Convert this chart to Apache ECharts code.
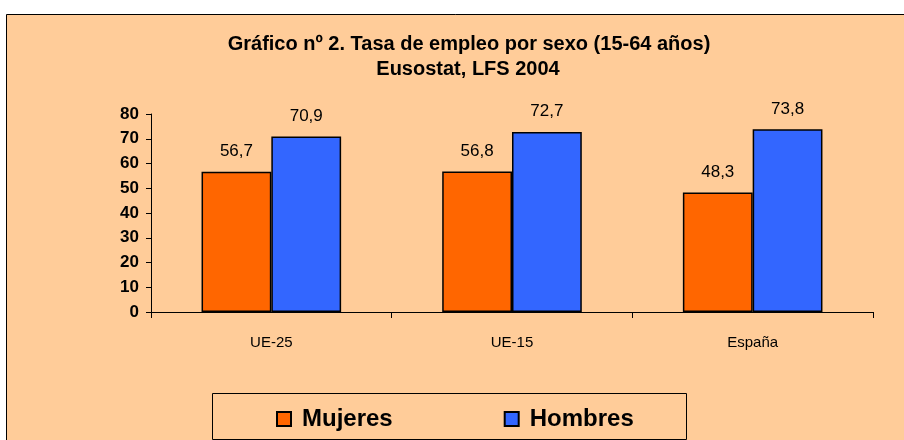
<!DOCTYPE html>
<html>
<head>
<meta charset="utf-8">
<script src="https://cdn.jsdelivr.net/npm/echarts@6/dist/echarts.min.js"></script>
<style>
  html, body { margin: 0; padding: 0; background: #fff; }
  #chart { width: 904px; height: 440px; }
</style>
</head>
<body>
<div id="chart"></div>
<script>
// datos
const categorias = ['UE-25', 'UE-15', 'España']
const mujeres = [56.7, 56.8, 48.3]
const hombres = [70.9, 72.7, 73.8]
const yTicks = [0, 10, 20, 30, 40, 50, 60, 70, 80]

const fuente = '"Liberation Sans", Arial, sans-serif'
const etiqueta = {
  show: true,
  position: 'top',
  distance: 12,
  color: '#000',
  fontSize: 17,
  fontFamily: fuente,
  formatter: p => p.value.toFixed(1).replace('.', ',')
}

const chart = echarts.init(document.getElementById('chart'))
chart.setOption({
  backgroundColor: '#fff',
  animation: false,
  graphic: [
    // panel de fondo
    {
      type: 'rect', z: -10,
      shape: { x: 6.5, y: 14.5, width: 910, height: 440 },
      style: { fill: '#FFCC99', stroke: '#000', lineWidth: 1 }
    },
    // caja de la leyenda
    {
      type: 'rect', z: -5,
      shape: { x: 212.5, y: 393.5, width: 474, height: 46 },
      style: { fill: '#FFCC99', stroke: '#000', lineWidth: 1 }
    }
  ],
  title: [
    {
      text: 'Gráfico nº 2. Tasa de empleo por sexo (15-64 años)',
      left: 464, top: 29, textAlign: 'center',
      textStyle: { fontSize: 20, fontWeight: 'bold', fontFamily: fuente, color: '#000' }
    },
    {
      text: 'Eusostat, LFS 2004',
      left: 463, top: 54, textAlign: 'center',
      textStyle: { fontSize: 20, fontWeight: 'bold', fontFamily: fuente, color: '#000' }
    }
  ],
  legend: {
    left: 271, top: 402, itemGap: 111,
    itemWidth: 14, itemHeight: 14,
    icon: 'rect',
    textStyle: { fontSize: 24, fontWeight: 'bold', fontFamily: fuente, color: '#000', padding: [0, 0, 0, 6] },
    data: ['Mujeres', 'Hombres']
  },
  grid: { left: 151, right: 31, top: 114, bottom: 128 },
  xAxis: {
    type: 'category',
    data: categorias,
    axisLine: { lineStyle: { color: '#000', width: 1 } },
    axisTick: { show: true, length: 6, lineStyle: { color: '#000' } },
    axisLabel: { color: '#000', fontSize: 15, fontFamily: fuente, margin: 23 }
  },
  yAxis: {
    type: 'value',
    min: yTicks[0], max: yTicks[yTicks.length - 1], interval: 10,
    splitLine: { show: false },
    axisLine: { show: true, lineStyle: { color: '#000', width: 1 } },
    axisTick: { show: true, length: 5, lineStyle: { color: '#000' } },
    axisLabel: { color: '#000', fontSize: 17, fontWeight: 'bold', fontFamily: fuente, margin: 12 }
  },
  series: [
    {
      name: 'Mujeres', type: 'bar', data: mujeres,
      barGap: '0%', barCategoryGap: '42%',
      itemStyle: { color: '#FF6600', borderColor: '#000', borderWidth: 1.5 },
      label: etiqueta
    },
    {
      name: 'Hombres', type: 'bar', data: hombres,
      itemStyle: { color: '#3366FF', borderColor: '#000', borderWidth: 1.5 },
      label: etiqueta
    }
  ]
})
</script>
</body>
</html>
